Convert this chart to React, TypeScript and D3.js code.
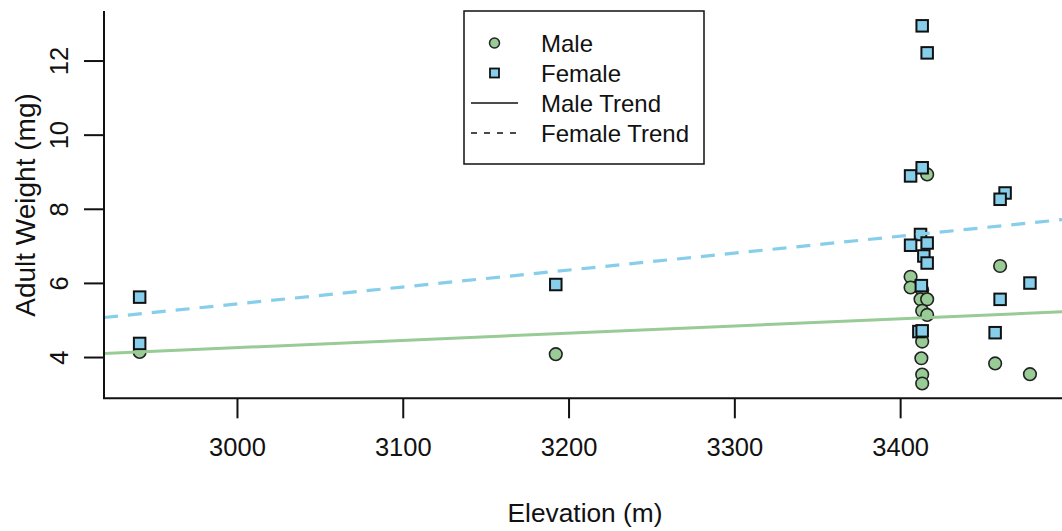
import React from 'react';
import * as d3 from 'd3';

// elevation (m) and adult weight (mg)
const maleElev = [2941, 3192, 3416, 3460, 3406, 3406, 3413, 3412, 3416, 3413, 3416, 3413, 3412.5, 3457, 3478, 3413, 3413];
const maleWeight = [4.15, 4.09, 8.94, 6.47, 6.18, 5.89, 5.82, 5.57, 5.57, 5.26, 5.15, 4.43, 3.98, 3.84, 3.55, 3.54, 3.3];

const femaleElev = [2941, 2941, 3192, 3413, 3416, 3406, 3413, 3463, 3460, 3412, 3406, 3416, 3414, 3416, 3478, 3412.5, 3460, 3411, 3413, 3457];
const femaleWeight = [5.63, 4.38, 5.97, 12.95, 12.22, 8.9, 9.12, 8.44, 8.27, 7.32, 7.03, 7.09, 6.74, 6.55, 6.01, 5.94, 5.57, 4.7, 4.72, 4.67];

// fitted trend lines, endpoints at the edges of the plot region
const trendElev = [2919.5, 3499.5];
const maleTrend = [4.11, 5.24];
const femaleTrend = [5.08, 7.73];

const xTicks = [3000, 3100, 3200, 3300, 3400];
const yTicks = [4, 6, 8, 10, 12];

const legendItems = ['Male', 'Female', 'Male Trend', 'Female Trend'];

const MALE = '#98cb96';
const FEMALE = '#87ceeb';
const FONT = 'Liberation Sans, Arial, sans-serif';

const W = 1062;
const H = 531;

const App: React.FC = () => {
  const x = d3.scaleLinear().domain([2919.5, 3499.5]).range([104, 1065.6]);
  const y = d3.scaleLinear().domain([2.9, 13.35]).range([398.3, 11]);

  const line = d3.line<[number, number]>()
    .x(d => x(d[0]))
    .y(d => y(d[1]));

  const males = maleElev.map((e, i) => [e, maleWeight[i]] as [number, number]);
  const females = femaleElev.map((e, i) => [e, femaleWeight[i]] as [number, number]);
  const sq = 11.5;

  const x0 = x.range()[0];
  const yBottom = y.range()[0];

  // legend geometry
  const lg = { left: 464, top: 11, width: 240, height: 153, row: 30, first: 43 };

  return (
    <svg width={W} height={H} style={{ position: 'absolute', left: 0, top: 0, background: '#fff' }} fontFamily={FONT}>
      {/* points */}
      {males.map((d, i) => (
        <circle key={'m' + i} cx={x(d[0])} cy={y(d[1])} r={6.3} fill={MALE} stroke="#222" strokeWidth={1.6} />
      ))}
      {females.map((d, i) => (
        <rect key={'f' + i} x={x(d[0]) - sq / 2} y={y(d[1]) - sq / 2} width={sq} height={sq} fill={FEMALE} stroke="#111" strokeWidth={2} />
      ))}

      {/* trend lines */}
      <path d={line(trendElev.map((e, i) => [e, maleTrend[i]] as [number, number])) || ''} stroke={MALE} strokeWidth={3} fill="none" />
      <path d={line(trendElev.map((e, i) => [e, femaleTrend[i]] as [number, number])) || ''} stroke={FEMALE} strokeWidth={3.2} fill="none" strokeDasharray="14 10" />

      {/* L-shaped box */}
      <path d={`M${x0},${y.range()[1]}V${yBottom}H${W + 4}`} stroke="#111" strokeWidth={2} fill="none" />

      {/* x axis */}
      {xTicks.map(t => (
        <g key={t}>
          <line x1={x(t)} x2={x(t)} y1={yBottom} y2={yBottom + 20} stroke="#111" strokeWidth={2} />
          <text x={x(t)} y={456} textAnchor="middle" fontSize={25.5} fill="#111">{t}</text>
        </g>
      ))}
      <text x={585} y={522} textAnchor="middle" fontSize={26.3} fill="#111">Elevation (m)</text>

      {/* y axis */}
      {yTicks.map(t => (
        <g key={t}>
          <line x1={x0 - 20} x2={x0} y1={y(t)} y2={y(t)} stroke="#111" strokeWidth={2} />
          <text transform={`translate(68,${y(t)}) rotate(-90)`} textAnchor="middle" fontSize={25.5} fill="#111">{t}</text>
        </g>
      ))}
      <text transform={`translate(35,205) rotate(-90)`} textAnchor="middle" fontSize={28} fill="#111">Adult Weight (mg)</text>

      {/* legend */}
      <rect x={lg.left} y={lg.top} width={lg.width} height={lg.height} fill="#fff" stroke="#111" strokeWidth={1.5} />
      {legendItems.map((label, i) => {
        const cy = lg.first + i * lg.row;
        return (
          <g key={label}>
            {i === 0 && <circle cx={494.5} cy={cy} r={5} fill={MALE} stroke="#222" strokeWidth={1.5} />}
            {i === 1 && <rect x={494.5 - 4.5} y={cy - 4.5} width={9} height={9} fill={FEMALE} stroke="#111" strokeWidth={1.8} />}
            {i === 2 && <line x1={471} x2={518} y1={cy} y2={cy} stroke="#111" strokeWidth={1.5} />}
            {i === 3 && <line x1={471} x2={518} y1={cy} y2={cy} stroke="#111" strokeWidth={1.5} strokeDasharray="6 7" />}
            <text x={541} y={cy + 8.5} fontSize={24} fill="#111">{label}</text>
          </g>
        );
      })}
    </svg>
  );
};

export default App;
